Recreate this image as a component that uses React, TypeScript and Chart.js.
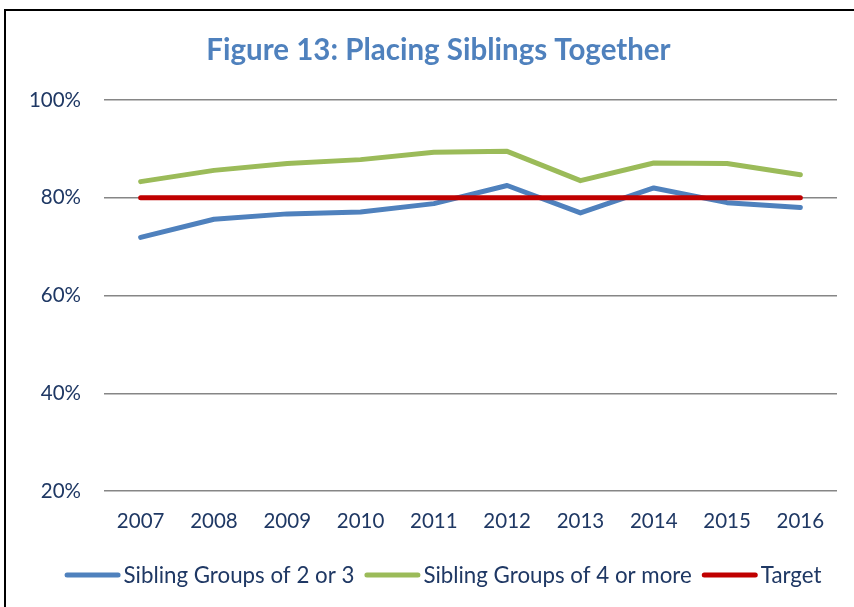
import React, { useEffect, useRef } from "react";
import { Chart, registerables } from "chart.js";

Chart.register(...registerables);

const TITLE = "Figure 13: Placing Siblings Together";
const years = ["2007", "2008", "2009", "2010", "2011", "2012", "2013", "2014", "2015", "2016"];
const groups2or3 = [71.9, 75.6, 76.7, 77.1, 78.8, 82.5, 76.9, 82.0, 79.0, 78.0];
const groups4plus = [83.3, 85.6, 87.0, 87.8, 89.3, 89.5, 83.5, 87.1, 87.0, 84.7];
const target = [80, 80, 80, 80, 80, 80, 80, 80, 80, 80];
const seriesLabels = ["Sibling Groups of 2 or 3", "Sibling Groups of 4 or more", "Target"];
const yMin = 20;
const yMax = 100;
const yStep = 20;

const W = 854;
const H = 607;
const FONT = "Lato";
const TEXT = "#1F3864";

const decorPlugin = {
  id: "decor",
  afterDraw(chart: any) {
    const ctx = chart.ctx as CanvasRenderingContext2D;
    ctx.save();
    // frame
    ctx.strokeStyle = "#000000";
    ctx.lineWidth = 2;
    ctx.beginPath();
    ctx.moveTo(5, H);
    ctx.lineTo(5, 10);
    ctx.lineTo(W, 10);
    ctx.stroke();
    // title
    ctx.font = `bold 29.5px ${FONT}`;
    ctx.fillStyle = "#4F81BD";
    ctx.textAlign = "center";
    ctx.textBaseline = "middle";
    ctx.fillText(TITLE, 438.5, 50);
    // legend
    ctx.font = `22.3px ${FONT}`;
    const ds = chart.data.datasets;
    const lineW = 56;
    const gapText = 3;
    const gapItem = 10;
    const widths = ds.map((d: any) => lineW + gapText + ctx.measureText(d.label).width);
    const total = widths.reduce((a: number, b: number) => a + b, 0) + gapItem * (ds.length - 1);
    let x = 443 - total / 2;
    const y = 575;
    ds.forEach((d: any, i: number) => {
      ctx.strokeStyle = d.borderColor;
      ctx.lineWidth = 5;
      ctx.lineCap = "round";
      ctx.beginPath();
      ctx.moveTo(x + 2.5, y);
      ctx.lineTo(x + lineW - 2.5, y);
      ctx.stroke();
      ctx.fillStyle = TEXT;
      ctx.textAlign = "left";
      ctx.textBaseline = "middle";
      ctx.fillText(d.label, x + lineW + gapText, y + 1);
      x += widths[i] + gapItem;
    });
    ctx.restore();
  },
};

export default function App() {
  const ref = useRef<HTMLCanvasElement | null>(null);
  useEffect(() => {
    if (!ref.current) return;
    const lineCommon = {
      borderWidth: 5,
      pointRadius: 0,
      pointHoverRadius: 0,
      tension: 0,
      borderCapStyle: "round" as const,
      borderJoinStyle: "round" as const,
      fill: false,
    };
    const chart = new Chart(ref.current, {
      type: "line",
      data: {
        labels: years,
        datasets: [
          { ...lineCommon, label: seriesLabels[0], data: groups2or3, borderColor: "#4F81BD", backgroundColor: "#4F81BD", order: 2 },
          { ...lineCommon, label: seriesLabels[1], data: groups4plus, borderColor: "#9BBB59", backgroundColor: "#9BBB59", order: 1 },
          { ...lineCommon, label: seriesLabels[2], data: target, borderColor: "#C00000", backgroundColor: "#C00000", order: 0 },
        ],
      },
      options: {
        responsive: false,
        animation: false,
        layout: { padding: { top: 100, right: 17, left: 0, bottom: 0 } },
        plugins: {
          legend: { display: false },
          title: { display: false },
          tooltip: { enabled: false },
        },
        scales: {
          x: {
            offset: true,
            grid: { display: false, drawTicks: false },
            border: { display: false },
            ticks: { color: TEXT, font: { family: FONT, size: 20.5 }, padding: 18, maxRotation: 0, autoSkip: false },
            afterFit: (s: any) => {
              s.height = 116;
            },
          },
          y: {
            min: yMin,
            max: yMax,
            grid: { color: "#868686", lineWidth: 1.5, drawTicks: false },
            border: { display: false },
            ticks: {
              stepSize: yStep,
              color: TEXT,
              font: { family: FONT, size: 20.5 },
              padding: 23,
              callback: (v: any) => `${v}%`,
            },
            afterFit: (s: any) => {
              s.width = 104;
            },
          },
        },
      },
      plugins: [decorPlugin],
    });
    return () => chart.destroy();
  }, []);
  return (
    <div style={{ position: "absolute", left: 0, top: 0, width: W, height: H, background: "#fff" }}>
      <canvas ref={ref} width={W} height={H} style={{ display: "block" }} />
    </div>
  );
}
